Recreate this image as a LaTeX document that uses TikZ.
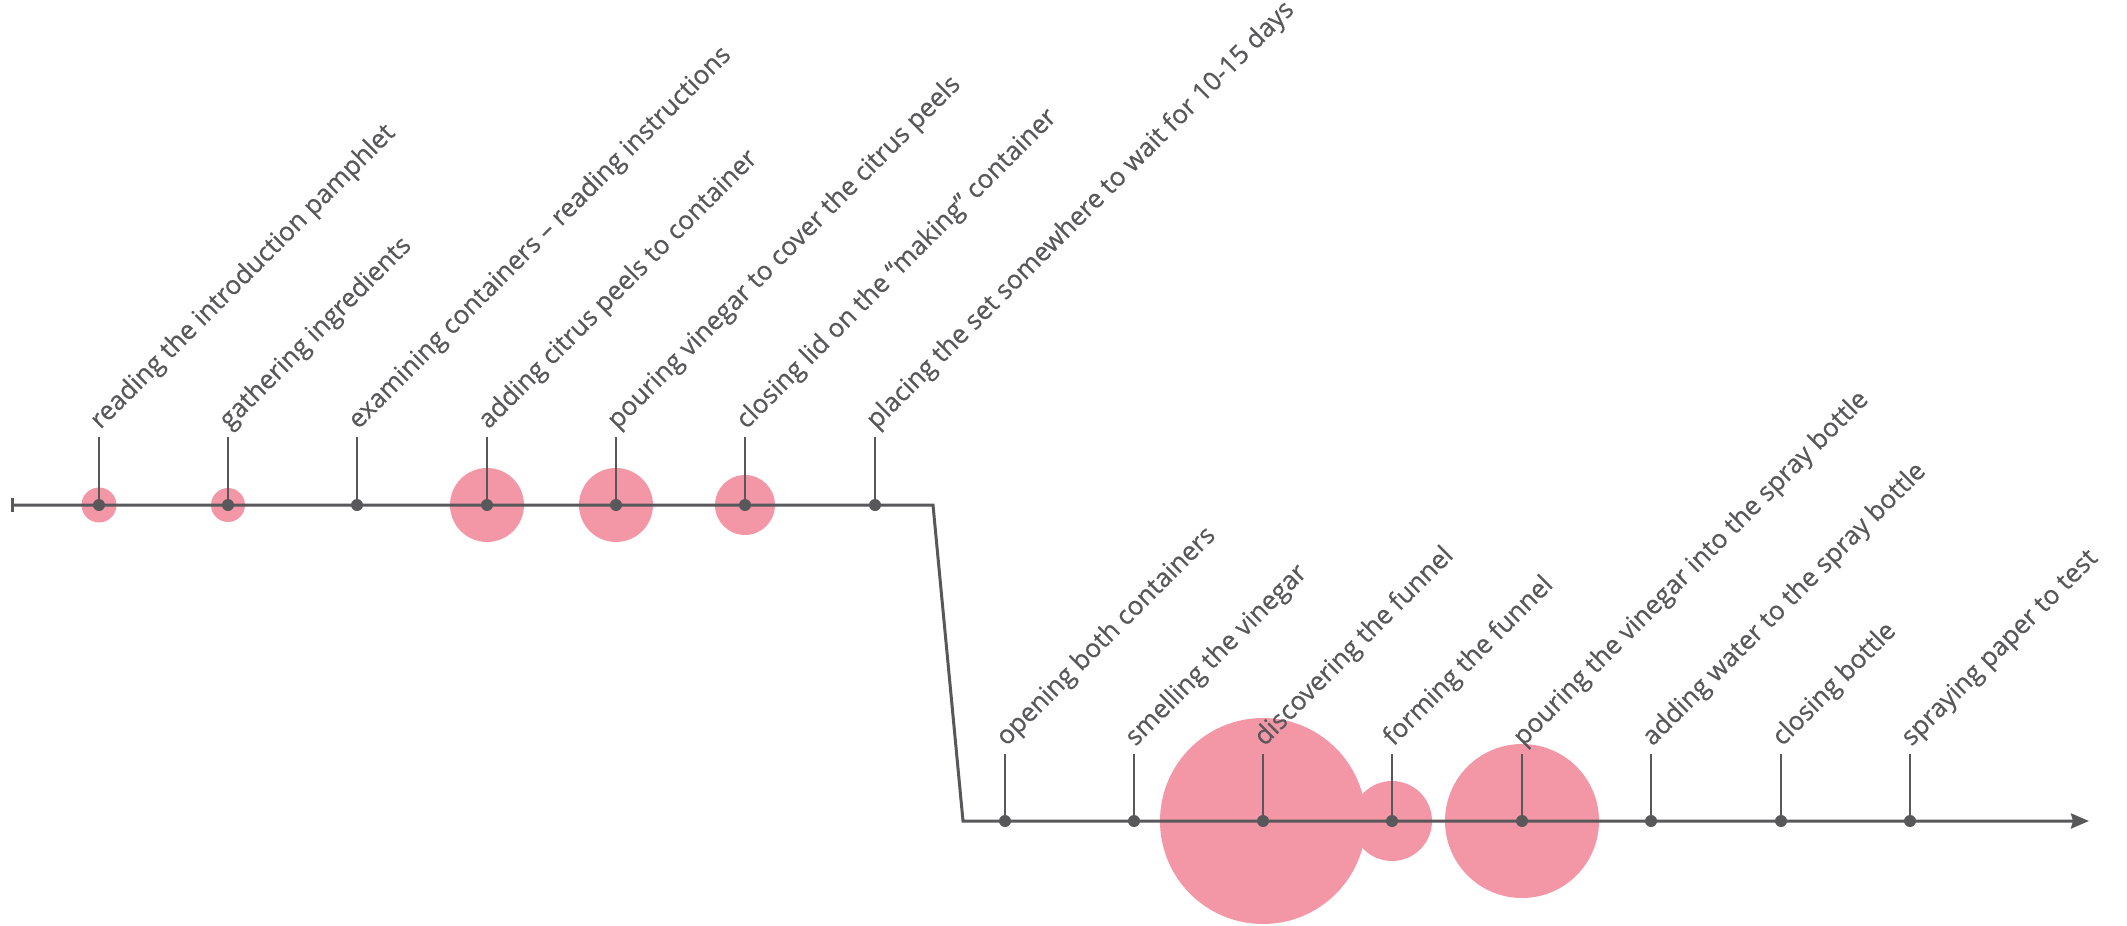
\documentclass[tikz,border=0pt]{standalone}
\usepackage{fontspec}
\setmainfont{Open Sans}[FakeBold=0.5]
\usepackage{tikz}
\usetikzlibrary{arrows.meta,calc,positioning}
\definecolor{linegray}{RGB}{88,88,90}
\definecolor{bubblepink}{RGB}{243,151,167}

\begin{document}
\begin{tikzpicture}[x=0.5pt,y=-0.5pt,
            timeline/.style={draw=linegray,line width=1.5pt},
            stem/.style={draw=linegray,line width=1.2pt},
            bubble/.style={fill=bubblepink},
            dot/.style={fill=linegray},
            steplabel/.style={anchor=base west,rotate=45,inner sep=0pt,xshift=2.5pt,yshift=2pt,
              text=linegray,font=\fontsize{13}{15}\selectfont}]
            \useasboundingbox (0,0) rectangle (2127,926);
            % Define points
            \coordinate (start) at (11,505);
            \coordinate (a1) at (99,505);
            \coordinate (a2) at (228,505);
            \coordinate (a3) at (357,505);
            \coordinate (a4) at (487,505);
            \coordinate (a5) at (616,505);
            \coordinate (a6) at (745,505);
            \coordinate (a7) at (875,505);
            \coordinate (bendA) at (933,505);
            \coordinate (bendB) at (963,821);
            \coordinate (b1) at (1005,821);
            \coordinate (b2) at (1134,821);
            \coordinate (b3) at (1263,821);
            \coordinate (b4) at (1392,821);
            \coordinate (b5) at (1522,821);
            \coordinate (b6) at (1651,821);
            \coordinate (b7) at (1781,821);
            \coordinate (b8) at (1910,821);
            \coordinate (finish) at (2089,821);
            % Stem tops
            \coordinate (a1t) at (99,437);
            \coordinate (a2t) at (228,437);
            \coordinate (a3t) at (357,437);
            \coordinate (a4t) at (487,437);
            \coordinate (a5t) at (616,437);
            \coordinate (a6t) at (745,437);
            \coordinate (a7t) at (875,437);
            \coordinate (b1t) at (1005,754);
            \coordinate (b2t) at (1134,754);
            \coordinate (b3t) at (1263,754);
            \coordinate (b4t) at (1392,754);
            \coordinate (b5t) at (1522,754);
            \coordinate (b6t) at (1651,754);
            \coordinate (b7t) at (1781,754);
            \coordinate (b8t) at (1910,754);
            % Bubbles
            \fill[bubble] (a1) circle (17.5);
            \fill[bubble] (a2) circle (17);
            \fill[bubble] (a4) circle (37);
            \fill[bubble] (a5) circle (37);
            \fill[bubble] (a6) circle (30);
            \fill[bubble] (b3) circle (103);
            \fill[bubble] (b4) circle (40);
            \fill[bubble] (b5) circle (77);
            % Time line
            \draw[timeline,{Bar[width=7pt]}-{Stealth[length=9pt,width=7.5pt,inset=1pt]}]
            (start) -- (bendA) -- (bendB) -- (finish);
            % Stems and labels
            \draw[stem] (a1) -- (a1t) node[steplabel] (l1) {reading the introduction pamphlet};
            \draw[stem] (a2) -- (a2t) node[steplabel] (l2) {gathering ingredients};
            \draw[stem] (a3) -- (a3t) node[steplabel] (l3) {examining containers – reading instructions};
            \draw[stem] (a4) -- (a4t) node[steplabel] (l4) {adding citrus peels to container};
            \draw[stem] (a5) -- (a5t) node[steplabel] (l5) {pouring vinegar to cover the citrus peels};
            \draw[stem] (a6) -- (a6t) node[steplabel] (l6) {closing lid on the “making” container};
            \draw[stem] (a7) -- (a7t) node[steplabel] (l7) {placing the set somewhere to wait for 10-15 days};
            \draw[stem] (b1) -- (b1t) node[steplabel] (m1) {opening both containers};
            \draw[stem] (b2) -- (b2t) node[steplabel] (m2) {smelling the vinegar};
            \draw[stem] (b3) -- (b3t) node[steplabel] (m3) {discovering the funnel};
            \draw[stem] (b4) -- (b4t) node[steplabel] (m4) {forming the funnel};
            \draw[stem] (b5) -- (b5t) node[steplabel] (m5) {pouring the vinegar into the spray bottle};
            \draw[stem] (b6) -- (b6t) node[steplabel] (m6) {adding water to the spray bottle};
            \draw[stem] (b7) -- (b7t) node[steplabel] (m7) {closing bottle};
            \draw[stem] (b8) -- (b8t) node[steplabel] (m8) {spraying paper to test};
            % Mark points
            \fill[dot] (a1) circle (6);
            \fill[dot] (a2) circle (6);
            \fill[dot] (a3) circle (6);
            \fill[dot] (a4) circle (6);
            \fill[dot] (a5) circle (6);
            \fill[dot] (a6) circle (6);
            \fill[dot] (a7) circle (6);
            \fill[dot] (b1) circle (6);
            \fill[dot] (b2) circle (6);
            \fill[dot] (b3) circle (6);
            \fill[dot] (b4) circle (6);
            \fill[dot] (b5) circle (6);
            \fill[dot] (b6) circle (6);
            \fill[dot] (b7) circle (6);
            \fill[dot] (b8) circle (6);
\end{tikzpicture}
\end{document}
